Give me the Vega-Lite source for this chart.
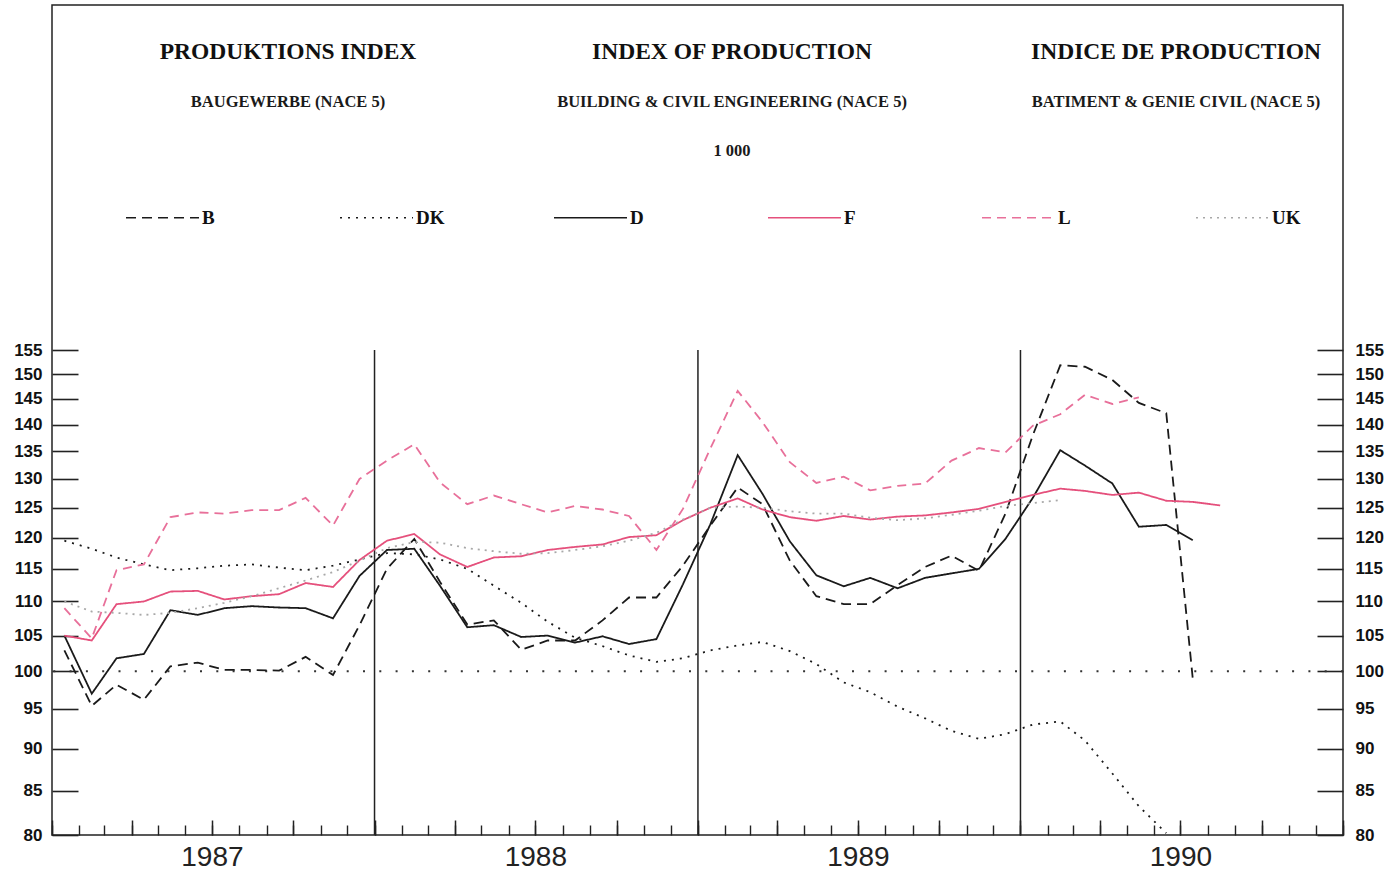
{
  "$schema": "https://vega.github.io/schema/vega-lite/v6.json",
  "width": 1291,
  "height": 830,
  "autosize": {"type": "none"},
  "padding": {"left": 52, "top": 5, "right": 56, "bottom": 39},
  "background": "white",
  "config": {"view": {"stroke": "#222", "strokeWidth": 1.5}},
  "datasets": {
    "headers": [
      {"lang": "de", "line": "title", "text": "PRODUKTIONS INDEX"},
      {"lang": "en", "line": "title", "text": "INDEX OF PRODUCTION"},
      {"lang": "fr", "line": "title", "text": "INDICE DE PRODUCTION"},
      {"lang": "de", "line": "subtitle", "text": "BAUGEWERBE (NACE 5)"},
      {"lang": "en", "line": "subtitle", "text": "BUILDING & CIVIL ENGINEERING (NACE 5)"},
      {"lang": "fr", "line": "subtitle", "text": "BATIMENT & GENIE CIVIL (NACE 5)"},
      {"lang": "en", "line": "unit", "text": "1 000"}
    ],
    "years": [
      {"t": "1988-01-01"},
      {"t": "1989-01-01"},
      {"t": "1990-01-01"}
    ],
    "series": [
      {"t": "1987-01-15", "B": 102.9, "DK": 119.5, "D": 105, "F": 105, "L": 109, "UK": 110},
      {"t": "1987-02-15", "B": 95.4, "DK": 118.2, "D": 97, "F": 104.3, "L": 104.6, "UK": 108.5},
      {"t": "1987-03-15", "B": 98.2, "DK": 116.8, "D": 101.8, "F": 109.6, "L": 114.8, "UK": 108.3},
      {"t": "1987-04-15", "B": 96.2, "DK": 115.7, "D": 102.4, "F": 110, "L": 115.7, "UK": 108},
      {"t": "1987-05-15", "B": 100.7, "DK": 114.8, "D": 108.7, "F": 111.5, "L": 123.4, "UK": 108.3},
      {"t": "1987-06-15", "B": 101.2, "DK": 115.1, "D": 108, "F": 111.6, "L": 124.2, "UK": 109},
      {"t": "1987-07-15", "B": 100.2, "DK": 115.5, "D": 109, "F": 110.3, "L": 124, "UK": 109.8},
      {"t": "1987-08-15", "B": 100.2, "DK": 115.7, "D": 109.3, "F": 110.8, "L": 124.6, "UK": 110.8},
      {"t": "1987-09-15", "B": 100.1, "DK": 115.2, "D": 109.1, "F": 111.1, "L": 124.6, "UK": 112},
      {"t": "1987-10-15", "B": 102, "DK": 114.8, "D": 109, "F": 112.8, "L": 126.7, "UK": 113.2},
      {"t": "1987-11-15", "B": 99.5, "DK": 115.5, "D": 107.5, "F": 112.2, "L": 122, "UK": 114.5},
      {"t": "1987-12-15", "B": 106.5, "DK": 116.5, "D": 113.9, "F": 116.4, "L": 130, "UK": 116.3},
      {"t": "1988-01-15", "B": 115, "DK": 117.5, "D": 118, "F": 119.5, "L": 133.3, "UK": 118.3},
      {"t": "1988-02-15", "B": 119.8, "DK": 117.3, "D": 118.2, "F": 120.6, "L": 136.3, "UK": 119.3},
      {"t": "1988-03-15", "B": 113, "DK": 116.5, "D": 112.4, "F": 117.3, "L": 129.4, "UK": 119.2},
      {"t": "1988-04-15", "B": 106.6, "DK": 115, "D": 106.2, "F": 115.3, "L": 125.6, "UK": 118.3},
      {"t": "1988-05-15", "B": 107.2, "DK": 112.4, "D": 106.5, "F": 116.8, "L": 127.1, "UK": 117.8},
      {"t": "1988-06-15", "B": 103, "DK": 109.8, "D": 104.8, "F": 117, "L": 125.6, "UK": 117.4},
      {"t": "1988-07-15", "B": 104.3, "DK": 107, "D": 105, "F": 118, "L": 124.2, "UK": 117.5},
      {"t": "1988-08-15", "B": 104.3, "DK": 104.7, "D": 104, "F": 118.5, "L": 125.3, "UK": 118},
      {"t": "1988-09-15", "B": 107.2, "DK": 103.5, "D": 104.9, "F": 118.9, "L": 124.7, "UK": 118.6},
      {"t": "1988-10-15", "B": 110.6, "DK": 102.2, "D": 103.8, "F": 120.1, "L": 123.6, "UK": 119.5},
      {"t": "1988-11-15", "B": 110.6, "DK": 101.3, "D": 104.5, "F": 120.4, "L": 118, "UK": 120.8},
      {"t": "1988-12-15", "B": 115.5, "DK": 101.8, "D": 112.6, "F": 122.9, "L": 124.8, "UK": 123},
      {"t": "1989-01-15", "B": 122, "DK": 102.9, "D": 122.2, "F": 125, "L": 135.5, "UK": 125},
      {"t": "1989-02-15", "B": 128.5, "DK": 103.6, "D": 134.3, "F": 126.6, "L": 146.6, "UK": 125.2},
      {"t": "1989-03-15", "B": 125.6, "DK": 104.1, "D": 127.4, "F": 124.7, "L": 140.5, "UK": 125},
      {"t": "1989-04-15", "B": 116.3, "DK": 102.8, "D": 119.4, "F": 123.4, "L": 133, "UK": 124.4},
      {"t": "1989-05-15", "B": 110.8, "DK": 101, "D": 114, "F": 122.8, "L": 129.3, "UK": 124},
      {"t": "1989-06-15", "B": 109.6, "DK": 98.5, "D": 112.3, "F": 123.6, "L": 130.4, "UK": 124},
      {"t": "1989-07-15", "B": 109.6, "DK": 97.2, "D": 113.6, "F": 123, "L": 128, "UK": 123.3},
      {"t": "1989-08-15", "B": 112.5, "DK": 95.3, "D": 112, "F": 123.5, "L": 128.8, "UK": 122.9},
      {"t": "1989-09-15", "B": 115.3, "DK": 93.8, "D": 113.6, "F": 123.7, "L": 129.2, "UK": 123.2},
      {"t": "1989-10-15", "B": 117.1, "DK": 92.2, "D": 114.3, "F": 124.2, "L": 133.3, "UK": 123.8},
      {"t": "1989-11-15", "B": 114.7, "DK": 91.2, "D": 115, "F": 124.8, "L": 135.6, "UK": 124.5},
      {"t": "1989-12-15", "B": 124, "DK": 91.8, "D": 119.8, "F": 126, "L": 134.8, "UK": 125.3},
      {"t": "1990-01-15", "B": 138, "DK": 93, "D": 126.7, "F": 127.2, "L": 139.8, "UK": 125.8},
      {"t": "1990-02-15", "B": 151.8, "DK": 93.4, "D": 135.2, "F": 128.3, "L": 142, "UK": 126.3},
      {"t": "1990-03-15", "B": 151.5, "DK": 91, "D": 132.4, "F": 127.9, "L": 145.8},
      {"t": "1990-04-15", "B": 148.8, "DK": 87, "D": 129.2, "F": 127.2, "L": 144},
      {"t": "1990-05-15", "B": 144.2, "DK": 83.2, "D": 121.8, "F": 127.6, "L": 145.3},
      {"t": "1990-06-15", "B": 142.2, "DK": 80.2, "D": 122.1, "F": 126.2},
      {"t": "1990-07-15", "B": 99, "D": 119.6, "F": 126},
      {"t": "1990-08-15", "F": 125.4}
    ]
  },
  "layer": [
    {
      "data": {"name": "headers"},
      "transform": [{"filter": "datum.line == 'title'"}],
      "mark": {"type": "text", "font": "Liberation Serif, serif", "fontWeight": "bold", "fontSize": 23.5, "align": "center", "baseline": "middle", "color": "#111"},
      "encoding": {
        "x": {"field": "lang", "type": "nominal", "scale": {"type": "point", "domain": ["de", "en", "fr"], "range": [236, 1124], "padding": 0}, "axis": null},
        "y": {"field": "line", "type": "nominal", "scale": {"type": "point", "domain": ["title", "subtitle", "unit"], "range": [47, 146], "padding": 0}, "axis": null},
        "text": {"field": "text"}
      }
    },
    {
      "data": {"name": "headers"},
      "transform": [{"filter": "datum.line != 'title'"}],
      "mark": {"type": "text", "font": "Liberation Serif, serif", "fontWeight": "bold", "fontSize": 16.5, "align": "center", "baseline": "middle", "color": "#1a1a1a"},
      "encoding": {
        "x": {"field": "lang", "type": "nominal", "scale": {"type": "point", "domain": ["de", "en", "fr"], "range": [236, 1124], "padding": 0}, "axis": null},
        "y": {"field": "line", "type": "nominal", "scale": {"type": "point", "domain": ["title", "subtitle", "unit"], "range": [47, 146], "padding": 0}, "axis": null},
        "text": {"field": "text"}
      }
    },
    {
      "data": {"values": [{}]},
      "mark": {"type": "rule", "strokeDash": [2, 14.3], "strokeWidth": 2, "color": "#333"},
      "encoding": {
        "y": {"datum": 100, "type": "quantitative", "scale": {"type": "log", "domain": [80, 155], "range": [830, 345]}, "axis": null}
      }
    },
    {
      "data": {"name": "years"},
      "mark": {"type": "rule", "color": "#222", "strokeWidth": 1.5},
      "encoding": {
        "x": {
          "field": "t", "type": "temporal",
          "scale": {"type": "utc", "domain": [{"year": 1987, "month": 1, "date": 1, "utc": true}, {"year": 1991, "month": 1, "date": 1, "utc": true}]},
          "axis": {
            "orient": "bottom", "title": null, "domain": false, "grid": false,
            "tickCount": {"interval": "month", "step": 3},
            "offset": -15, "tickSize": 15, "tickColor": "#222", "tickWidth": 1.5,
            "labelExpr": "utcmonth(datum.value) == 6 ? utcFormat(datum.value, '%Y') : ''",
            "labelPadding": 8, "labelFont": "Liberation Sans", "labelFontSize": 28, "labelColor": "#222",
            "labelOverlap": false, "labelFlush": false, "labelBound": false
          }
        },
        "y": {
          "datum": 155, "type": "quantitative",
          "scale": {"type": "log", "domain": [80, 155], "range": [830, 345]},
          "axis": {
            "orient": "right", "title": null, "domain": false, "grid": false,
            "values": [80, 85, 90, 95, 100, 105, 110, 115, 120, 125, 130, 135, 140, 145, 150, 155],
            "format": "d", "offset": -26, "tickSize": 26, "tickColor": "#222", "tickWidth": 1.6,
            "labelPadding": 12, "labelFont": "Liberation Sans", "labelFontSize": 17, "labelFontWeight": "bold",
            "labelColor": "#111", "labelOverlap": false, "labelBound": false
          }
        },
        "y2": {"datum": 80}
      }
    },
    {
      "data": {"name": "series"},
      "transform": [{"fold": ["B", "DK", "D", "F", "L", "UK"], "as": ["s", "v"]}],
      "mark": {"type": "line", "strokeWidth": 1.8},
      "encoding": {
        "x": {
          "field": "t", "type": "temporal",
          "scale": {"type": "utc", "domain": [{"year": 1987, "month": 1, "date": 1, "utc": true}, {"year": 1991, "month": 1, "date": 1, "utc": true}]},
          "axis": {
            "orient": "bottom", "title": null, "domain": false, "grid": false, "labels": false,
            "tickCount": {"interval": "month", "step": 1},
            "offset": -10, "tickSize": 10, "tickColor": "#222", "tickWidth": 1.4
          }
        },
        "y": {
          "field": "v", "type": "quantitative",
          "scale": {"type": "log", "domain": [80, 155], "range": [830, 345]},
          "axis": {
            "orient": "left", "title": null, "domain": false, "grid": false,
            "values": [80, 85, 90, 95, 100, 105, 110, 115, 120, 125, 130, 135, 140, 145, 150, 155],
            "format": "d", "offset": -26, "tickSize": 26, "tickColor": "#222", "tickWidth": 1.6,
            "labelPadding": 10, "labelFont": "Liberation Sans", "labelFontSize": 17, "labelFontWeight": "bold",
            "labelColor": "#111", "labelOverlap": false, "labelBound": false
          }
        },
        "color": {
          "field": "s", "type": "nominal",
          "scale": {"domain": ["B", "DK", "D", "F", "L", "UK"], "range": ["#1a1a1a", "#1a1a1a", "#1a1a1a", "#e5507c", "#e8709a", "#a8a8a8"]},
          "legend": {
            "orient": "none", "legendX": 73, "legendY": 175, "direction": "horizontal", "columns": 6, "title": null,
            "symbolType": "stroke", "symbolSize": 5329, "symbolStrokeWidth": 1.6,
            "labelFont": "Liberation Serif, serif", "labelFontWeight": "bold", "labelFontSize": 19,
            "labelColor": "#111", "labelOffset": 2, "columnPadding": 105, "gridAlign": "all", "padding": 0, "rowPadding": 0
          }
        },
        "strokeDash": {
          "field": "s", "type": "nominal",
          "scale": {"domain": ["B", "DK", "D", "F", "L", "UK"], "range": [[10, 6], [2, 6], [1, 0], [1, 0], [9, 6], [2, 5]]},
          "legend": {
            "orient": "none", "legendX": 73, "legendY": 175, "direction": "horizontal", "columns": 6, "title": null,
            "symbolType": "stroke", "symbolSize": 5329, "symbolStrokeWidth": 1.6,
            "labelFont": "Liberation Serif, serif", "labelFontWeight": "bold", "labelFontSize": 19,
            "labelColor": "#111", "labelOffset": 2, "columnPadding": 105, "gridAlign": "all", "padding": 0, "rowPadding": 0
          }
        }
      }
    }
  ],
  "resolve": {
    "scale": {"x": "independent", "y": "independent"},
    "axis": {"x": "independent", "y": "independent"}
  }
}
